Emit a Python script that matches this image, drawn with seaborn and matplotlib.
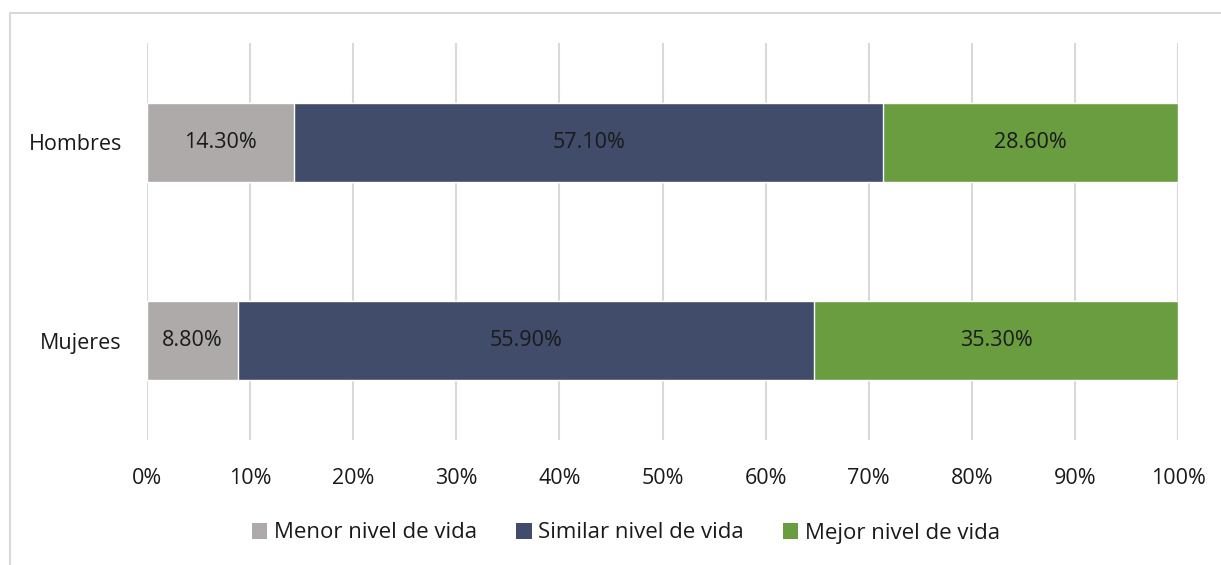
import matplotlib
matplotlib.use("Agg")
import matplotlib.pyplot as plt
from matplotlib.patches import Patch, Rectangle
import numpy as np
import pandas as pd
import seaborn as sns

# Data
groups = ["Hombres", "Mujeres"]
series = ["Menor nivel de vida", "Similar nivel de vida", "Mejor nivel de vida"]
menor = [14.3, 8.8]
similar = [57.1, 55.9]
mejor = [28.6, 35.3]
colors = ["#AEAAAA", "#404C6A", "#699D40"]
xticks = [0, 10, 20, 30, 40, 50, 60, 70, 80, 90, 100]

sns.set_theme(style="white")
plt.rcParams["font.family"] = ["Open Sans", "DejaVu Sans"]

FS = 15.5
TXT = "#1A1A1A"

values = np.array([menor, similar, mejor])  # shape (series, groups)
cum = np.cumsum(values, axis=0)

fig = plt.figure(figsize=(12.21, 5.65), dpi=100)
ax = fig.add_axes([147 / 1221, 1 - 440 / 565, (1178 - 147) / 1221, (440 - 43) / 565])

# Stacked bars: draw cumulative totals from the widest down
for i in reversed(range(len(series))):
    df = pd.DataFrame({"grupo": groups, "valor": cum[i]})
    sns.barplot(data=df, x="valor", y="grupo", orient="h", color=colors[i],
                width=0.4, saturation=1, ax=ax, zorder=3)

# Segment labels
for i in range(len(series)):
    for j in range(len(groups)):
        start = cum[i][j] - values[i][j]
        ax.text(start + values[i][j] / 2, j, f"{values[i][j]:.2f}%",
                ha="center", va="center", fontsize=FS, color=TXT, zorder=4)

ax.set_xlim(0, 100)
ax.set_ylim(1.5, -0.5)
ax.set_xticks(xticks)
ax.set_xticklabels([f"{t}%" for t in xticks])
ax.set_xlabel("")
ax.set_ylabel("")
ax.grid(axis="x", color="#D9D9D9", linewidth=1.5, zorder=0)
ax.grid(axis="y", visible=False)
for s in ax.spines.values():
    s.set_visible(False)
ax.tick_params(axis="x", length=0, pad=20, labelsize=FS, labelcolor=TXT)
ax.tick_params(axis="y", length=0, pad=18, labelsize=FS, labelcolor=TXT)

# Legend
handles = [Patch(facecolor=c, edgecolor="none", label=s) for c, s in zip(colors, series)]
fig.legend(handles=handles, loc="center", bbox_to_anchor=(626 / 1221, 1 - 533 / 565),
           ncol=3, frameon=False, fontsize=16, handlelength=0.7, handleheight=0.7,
           handletextpad=0.3, columnspacing=1.75, labelcolor=TXT)

# Chart frame
fig.patches.append(Rectangle((10 / 1221, -0.2), 1.2, 1.2 - 13 / 565,
                             transform=fig.transFigure, fill=False,
                             edgecolor="#D9D9D9", linewidth=1.5))

fig.savefig("out.png", dpi=100)
